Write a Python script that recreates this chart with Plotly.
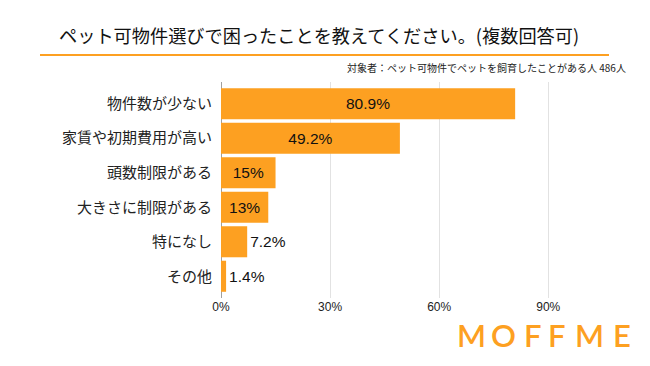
import plotly.graph_objects as go

categories = ["物件数が少ない", "家賃や初期費用が高い", "頭数制限がある", "大きさに制限がある", "特になし", "その他"]
values = [80.9, 49.2, 15, 13, 7.2, 1.4]
value_labels = ["80.9%", "49.2%", "15%", "13%", "7.2%", "1.4%"]
x_ticks = [0, 30, 60, 90]
x_tick_labels = ["0%", "30%", "60%", "90%"]
title_text = "ペット可物件選びで困ったことを教えてください。(複数回答可)"
subtitle_text = "対象者：ペット可物件でペットを飼育したことがある人 486人"
logo_letters = ["M", "O", "F", "F", "M", "E"]
logo_centers_px = [471, 503, 533, 557, 589, 622]

# the page body has an 8px default margin, so the figure sits at (8, 8)
OFF = 8
W, H = 650 - OFF, 366 - OFF
ORANGE = "#FDA021"
FONT = "Liberation Sans, Noto Sans CJK JP, sans-serif"
JFONT = "Noto Sans CJK JP, sans-serif"

def px_x(p):
    return (p - OFF) / W

def px_y(p):
    return 1 - (p - OFF) / H

fig = go.Figure()
fig.add_trace(go.Bar(
    x=values, y=categories, orientation="h",
    marker=dict(color=ORANGE, line=dict(width=0)),
    width=0.9,
    text=value_labels, textposition="auto",
    insidetextanchor="middle",
    textfont=dict(size=15.5, color="#111", family=FONT),
    insidetextfont=dict(size=15.5, color="#111", family=FONT),
    outsidetextfont=dict(size=15.5, color="#111", family=FONT),
    constraintext="none",
    cliponaxis=False,
    hoverinfo="skip",
))

fig.update_layout(
    width=W, height=H,
    margin=dict(l=0, r=0, t=0, b=0),
    paper_bgcolor="white", plot_bgcolor="white",
    showlegend=False,
    xaxis=dict(
        domain=[px_x(221), px_x(584.6)],
        range=[0, 100],
        tickvals=x_ticks, ticktext=x_tick_labels,
        showgrid=True, gridcolor="#e2e2e2", gridwidth=1,
        zeroline=True, zerolinecolor="#a0a0a0", zerolinewidth=1,
        showline=False, ticks="",
        tickfont=dict(size=12, color="#222", family=FONT),
        fixedrange=True, automargin=False,
    ),
    yaxis=dict(
        domain=[px_y(298), px_y(82)],
        type="category",
        categoryorder="array", categoryarray=categories,
        range=[5.63, -0.63],
        showgrid=False, zeroline=False, showline=False, ticks="",
        ticklabelstandoff=8,
        tickfont=dict(size=15, color="#222", family=JFONT),
        fixedrange=True, automargin=False,
    ),
)

fig.add_annotation(
    text=title_text, xref="paper", yref="paper",
    x=px_x(319), y=px_y(35), xanchor="center", yanchor="middle",
    showarrow=False, font=dict(size=18.2, color="#111", family=JFONT),
)
fig.add_shape(
    type="line", xref="paper", yref="paper",
    x0=px_x(40), x1=px_x(609), y0=px_y(55), y1=px_y(55),
    line=dict(color=ORANGE, width=2),
)
fig.add_annotation(
    text=subtitle_text, xref="paper", yref="paper",
    x=px_x(628), y=px_y(68), xanchor="right", yanchor="middle",
    showarrow=False, font=dict(size=10, color="#222", family=JFONT),
)
for letter, cx in zip(logo_letters, logo_centers_px):
    fig.add_annotation(
        text=letter, xref="paper", yref="paper",
        x=px_x(cx), y=px_y(335), xanchor="center", yanchor="middle",
        showarrow=False,
        font=dict(size=31, color=ORANGE, family="Lato, sans-serif", weight=600),
    )

fig.write_html("out.html")
